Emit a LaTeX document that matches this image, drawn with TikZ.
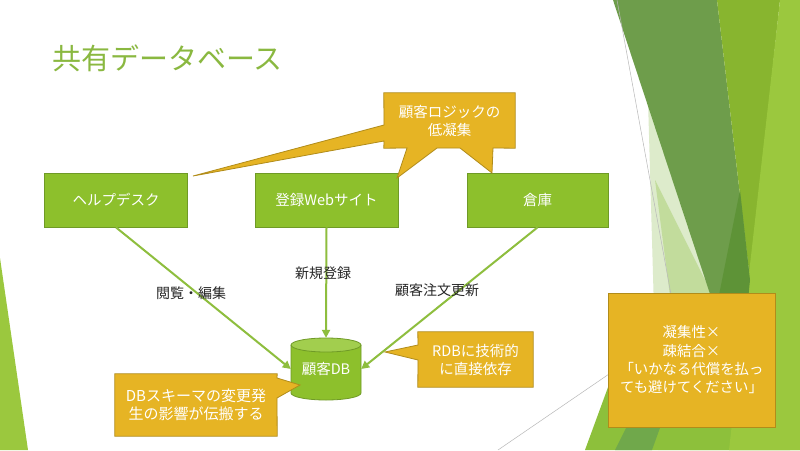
\documentclass[tikz,border=0pt]{standalone}
\usepackage{fontspec}
\setmainfont{Noto Sans CJK JP}
\usetikzlibrary{arrows.meta}
\pgfdeclarelayer{background}
\pgfdeclarelayer{front}
\pgfsetlayers{background,main,front}

\definecolor{boxgreen}{HTML}{8DC02C}
\definecolor{boxedge}{HTML}{6F9A26}
\definecolor{arrowgreen}{HTML}{8EBE3E}
\definecolor{callout}{HTML}{E6B424}
\definecolor{calloutedge}{HTML}{B18C1A}
\definecolor{titlegreen}{HTML}{8AB840}
\definecolor{dbtop}{HTML}{A2CE4E}
\definecolor{paleA}{HTML}{DDEBCB}
\definecolor{paleB}{HTML}{C2DC9C}
\definecolor{darkG}{HTML}{6E9D4B}
\definecolor{midG}{HTML}{88B52F}
\definecolor{lightG}{HTML}{9BC83E}
\definecolor{deepG}{HTML}{5E9337}
\definecolor{limeG}{HTML}{8DC03B}
\definecolor{stripG}{HTML}{70A84B}
\definecolor{thinline}{HTML}{B8B8B8}

\tikzset{
  sysbox/.style={draw=boxedge, fill=boxgreen, line width=0.8pt, minimum width=143pt,
    minimum height=54pt, inner sep=0pt, text=white, font=\fontsize{14.5}{17}\selectfont},
  flow/.style={draw=arrowgreen, line width=2pt, -{Triangle[length=8pt,width=8pt]}},
  lbl/.style={text=black!85, font=\fontsize{14}{17}\selectfont, inner sep=0pt},
  callouttext/.style={inner sep=0pt, text=white, align=center, font=\fontsize{14.5}{18}\selectfont},
  calloutshape/.style={fill=callout, draw=calloutedge, line width=0.8pt, line join=miter},
  dbnode/.style={minimum width=70pt, minimum height=62pt, inner sep=0pt, text=white,
    font=\fontsize{14.5}{17}\selectfont},
}

\begin{document}
\begin{tikzpicture}[x=1pt,y=-1pt]
\useasboundingbox (0,0) rectangle (800,450);

% ---------- background decoration ----------
\begin{pgfonlayer}{background}
\fill[white] (0,0) rectangle (800,450);
\fill[paleA] (648,100) -- (658,450) -- (790,450) -- cycle;
\fill[paleB] (655,180) -- (690,450) -- (790,450) -- cycle;
\fill[darkG] (613,0) -- (717,0) -- (750,280) -- (748,300) -- (712,300) -- cycle;
\fill[midG] (717,0) -- (780,0) -- (750,280) -- cycle;
\fill[limeG] (585,450) -- (800,450) -- (800,300) -- (640,300) -- cycle;
\fill[stripG] (615,450) -- (652,450) -- (670,400) -- (640,400) -- cycle;
\fill[lightG] (780,0) -- (800,0) -- (800,450) -- (729,450) -- cycle;
\fill[deepG] (740,190) -- (750,280) -- (748,300) -- (718,300) -- cycle;
\fill[lightG] (0,258) -- (28,450) -- (0,450) -- cycle;
\draw[thinline, line width=0.5pt] (617,0) -- (672,300);
\draw[thinline, line width=0.5pt] (498,450) -- (612,372);
\end{pgfonlayer}

% ---------- title ----------
\node[anchor=west, inner sep=0pt, text=titlegreen, font=\fontsize{29}{34}\selectfont]
  (title) at (52,58) {共有データベース};

% ---------- system boxes ----------
\node[sysbox] (help)  at (116,200)   {ヘルプデスク};
\node[sysbox] (web)   at (326.5,200) {登録Webサイト};
\node[sysbox, minimum width=141pt] (souko) at (537.5,200) {倉庫};

% ---------- database cylinder ----------
\begin{pgfonlayer}{front}
\node[dbnode] (db) at (326,369) {顧客DB};
\end{pgfonlayer}
\fill[boxgreen] (291,345) -- (291,393) arc[start angle=180, end angle=0, x radius=35, y radius=7] -- (361,345) -- cycle;
\draw[boxedge, line width=0.8pt] (291,345) -- (291,393) arc[start angle=180, end angle=0, x radius=35, y radius=7] -- (361,345);
\filldraw[fill=dbtop, draw=boxedge, line width=0.8pt] (326,345) ellipse[x radius=35, y radius=7];

% ---------- connectors ----------
\draw[flow] (help.south) -- (db.west);
\draw[flow] (web.south) -- (db.north);
\draw[flow] (souko.south) -- (db.east);

\node[lbl] (l1) at (191,293) {閲覧・編集};
\node[lbl] (l2) at (323,273) {新規登録};
\node[lbl] (l3) at (437,290) {顧客注文更新};

% ---------- callouts ----------
\begin{pgfonlayer}{front}
\node[callouttext, minimum width=131pt, minimum height=55pt] (cb) at (449.5,120.5)
  {顧客ロジックの\\低凝集};
\node[callouttext, minimum width=115pt, minimum height=55pt] (cr) at (475.5,359.5)
  {RDBに技術的\\に直接依存};
\node[callouttext, minimum width=162pt, minimum height=62pt, font=\fontsize{15}{18}\selectfont] (cd) at (196,405)
  {DBスキーマの変更発\\生の影響が伝搬する};
\end{pgfonlayer}

\draw[calloutshape] (cb.north west) -- (cb.north east) -- (cb.south east)
  -- (493,148) -- (492,173) -- (460,148) -- (437,148) -- (397,178) -- (407,148)
  -- (cb.south west) -- (384,141) -- (193,176) -- (384,125) -- cycle;

\draw[calloutshape] (cr.north west) -- (cr.north east) -- (cr.south east) -- (cr.south west)
  -- (418,360) -- (385,352) -- (418,345) -- cycle;

\draw[calloutshape] (cd.north west) -- (cd.north east) -- (277,378) -- (300,385) -- (277,398)
  -- (cd.south east) -- (cd.south west) -- cycle;

\node[callouttext, fill=callout, draw=calloutedge, line width=0.8pt, minimum width=167pt,
  minimum height=134pt, font=\fontsize{14.4}{18.3}\selectfont] (big) at (691.5,360)
  {凝集性×\\疎結合×\\「いかなる代償を払っ\\ても避けてください」};

\end{tikzpicture}
\end{document}
